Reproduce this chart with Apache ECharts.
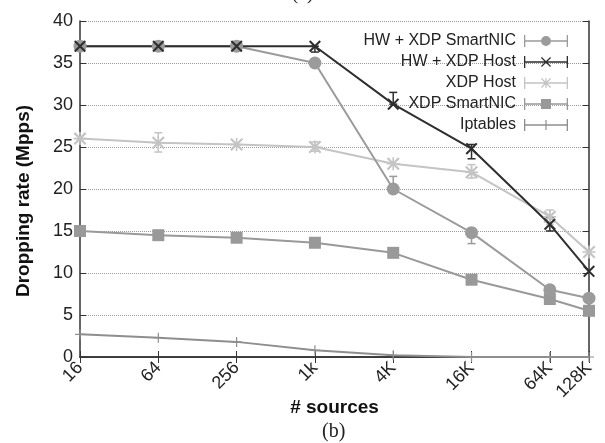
<!DOCTYPE html>
<html lang="en">
<head>
<meta charset="UTF-8">
<title>Dropping rate</title>
<script src="https://cdn.jsdelivr.net/npm/echarts@6/dist/echarts.min.js"></script>
<style>
  html, body { margin: 0; padding: 0; background: #fff; }
  #main { width: 605px; height: 443px; }
</style>
</head>
<body>
<div id="main"></div>
<script>
// # sources (x axis drawn on a log2 scale)
var sources = [16, 64, 256, 1024, 4096, 16384, 65536, 131072];
var xLabels = ['16', '64', '256', '1k', '4K', '16K', '64K', '128K'];

// dropping rate (Mpps)
var hwXdpNic  = [37, 37, 37, 35, 20, 14.8, 8, 7];
var hwXdpHost = [37, 37, 37, 37, 30.1, 24.8, 15.8, 10.2];
var xdpHost   = [26, 25.5, 25.3, 25, 23, 22, 16.7, 12.5];
var xdpNic    = [15, 14.5, 14.2, 13.6, 12.4, 9.2, 6.9, 5.5];
var iptables  = [2.7, 2.3, 1.8, 0.8, 0.2, 0, 0, 0];

// error bars: [sources, low, high]
var errHwXdpNic  = [[4096, 20, 21.5], [16384, 13.5, 15.3]];
var errHwXdpHost = [[1024, 36.3, 37], [4096, 30.1, 31.5], [16384, 23.6, 25.3], [65536, 15, 16.6]];
var errXdpHost   = [[64, 24.4, 26.7], [1024, 24.5, 25.6], [16384, 21.3, 22.9], [65536, 15.8, 17.5]];

var C_NIC = '#9b9b9b', C_HOST = '#2e2e2e', C_XHOST = '#c4c4c4', C_XNIC = '#999999', C_IPT = '#8e8e8e';

var crossPath = 'path://M0,1.2L1.2,0L10,8.8L8.8,10ZM8.8,0L10,1.2L1.2,10L0,8.8Z';
var plusPath = 'path://M4.4,0H5.6V10H4.4ZM0,4.4H10V5.6H0Z';
var starPath = 'path://M0,1.2L1.2,0L10,8.8L8.8,10ZM8.8,0L10,1.2L1.2,10L0,8.8ZM4.4,0H5.6V10H4.4ZM0,4.4H10V5.6H0Z';

// legend keys like gnuplot: |--marker--|
var caps = 'M0,0H1.3V12H0ZM42.7,0H44V12H42.7Z';
var fullLine = 'M0,5.25H44V6.75H0Z';
var splitLine = 'M0,5.25H17V6.75H0ZM27,5.25H44V6.75H27Z';
var iconNic = 'path://' + caps + splitLine + 'M17,6A5,5 0 1,1 27,6A5,5 0 1,1 17,6Z';
var iconHost = 'path://' + caps + fullLine + 'M17,1.9L17.9,1L27,10.1L26.1,11ZM26.1,1L27,1.9L17.9,11L17,10.1Z';
var iconXHost = 'path://' + caps + fullLine + 'M17,1.9L17.9,1L27,10.1L26.1,11ZM26.1,1L27,1.9L17.9,11L17,10.1ZM21.4,1H22.6V11H21.4Z';
var iconXNic = 'path://' + caps + splitLine + 'M17,1H27V11H17Z';
var iconIpt = 'path://' + caps + fullLine + 'M21.4,1H22.6V11H21.4Z';

var labelMap = {};
sources.forEach(function (s, i) { labelMap[Math.log2(s)] = xLabels[i]; });

function pts(vals) {
    return vals.map(function (v, i) { return [Math.log2(sources[i]), v]; });
}

function lineSeries(name, vals, color, symbol, size) {
    return {
        name: name,
        type: 'line',
        data: pts(vals),
        symbol: symbol,
        symbolSize: size,
        showAllSymbol: true,
        lineStyle: { color: color, width: 2 },
        itemStyle: { color: color, borderWidth: 0 },
        z: 3
    };
}

function errSeries(list, color) {
    return {
        type: 'custom',
        data: list.map(function (e) { return [Math.log2(e[0]), e[1], e[2]]; }),
        encode: { x: 0, y: [1, 2] },
        z: 2,
        silent: true,
        renderItem: function (params, api) {
            var lo = api.coord([api.value(0), api.value(1)]);
            var hi = api.coord([api.value(0), api.value(2)]);
            var w = 4;
            var st = { stroke: color, lineWidth: 1.5 };
            return {
                type: 'group',
                children: [
                    { type: 'line', shape: { x1: lo[0], y1: lo[1], x2: hi[0], y2: hi[1] }, style: st },
                    { type: 'line', shape: { x1: lo[0] - w, y1: lo[1], x2: lo[0] + w, y2: lo[1] }, style: st },
                    { type: 'line', shape: { x1: hi[0] - w, y1: hi[1], x2: hi[0] + w, y2: hi[1] }, style: st }
                ]
            };
        }
    };
}

var axisLineStyle = { color: '#333', width: 1.5 };
var labelFont = { fontFamily: 'Liberation Sans, Arial, sans-serif', fontSize: 18, color: '#222' };

var myChart = echarts.init(document.getElementById('main'));

var option = {
    animation: false,
    backgroundColor: '#fff',
    grid: { left: 80, right: 16, top: 21, bottom: 86 },
    legend: {
        data: [
            { name: 'HW + XDP SmartNIC', icon: iconNic },
            { name: 'HW + XDP Host', icon: iconHost },
            { name: 'XDP Host', icon: iconXHost },
            { name: 'XDP SmartNIC', icon: iconXNic },
            { name: 'Iptables', icon: iconIpt }
        ],
        orient: 'vertical',
        right: 32,
        top: 28,
        align: 'right',
        itemWidth: 44,
        itemHeight: 12,
        itemGap: 5,
        textStyle: { fontFamily: 'Liberation Sans, Arial, sans-serif', fontSize: 16, color: '#222', padding: [0, 3, 0, 0] }
    },
    graphic: [
        { type: 'text', left: 'center', top: -16, style: { text: '(a)', font: '20px "Liberation Serif", serif', fill: '#222' } },
        { type: 'text', left: 322, top: 422, style: { text: '(b)', font: '20px "Liberation Serif", serif', fill: '#222' } }
    ],
    xAxis: [{
        type: 'value',
        min: 4,
        max: 17,
        interval: 2,
        position: 'bottom',
        name: '# sources',
        nameLocation: 'middle',
        nameGap: 41,
        nameMoveOverlap: false,
        nameTextStyle: { fontFamily: 'Liberation Sans, Arial, sans-serif', fontSize: 19, fontWeight: 'bold', color: '#111' },
        axisLine: { lineStyle: axisLineStyle },
        axisTick: { inside: true, length: 6, lineStyle: { color: '#333' } },
        axisLabel: Object.assign({
            rotate: 45,
            margin: 8,
            formatter: function (v) { return labelMap[v] || ''; }
        }, labelFont),
        splitLine: { show: false }
    }, {
        type: 'value',
        min: 4,
        max: 17,
        interval: 2,
        position: 'top',
        axisLine: { lineStyle: axisLineStyle },
        axisTick: { inside: true, length: 6, lineStyle: { color: '#333' } },
        axisLabel: { show: false },
        splitLine: { show: false }
    }],
    yAxis: [{
        type: 'value',
        min: 0,
        max: 40,
        interval: 5,
        name: 'Dropping rate (Mpps)',
        nameLocation: 'middle',
        nameGap: 47,
        nameMoveOverlap: false,
        nameTextStyle: { fontFamily: 'Liberation Sans, Arial, sans-serif', fontSize: 19, fontWeight: 'bold', color: '#111', padding: [0, 24, 0, 0] },
        axisLine: { show: true, lineStyle: axisLineStyle },
        axisTick: { show: true, inside: true, length: 6, lineStyle: { color: '#333' } },
        axisLabel: Object.assign({ margin: 7 }, labelFont),
        splitLine: { show: true, lineStyle: { type: 'dotted', color: '#9a9a9a', width: 1 } }
    }, {
        type: 'value',
        min: 0,
        max: 40,
        interval: 5,
        position: 'right',
        axisLine: { show: true, lineStyle: axisLineStyle },
        axisTick: { show: true, inside: true, length: 6, lineStyle: { color: '#333' } },
        axisLabel: { show: false },
        splitLine: { show: false }
    }],
    series: [
        errSeries(errHwXdpNic, C_NIC),
        errSeries(errHwXdpHost, C_HOST),
        errSeries(errXdpHost, C_XHOST),
        lineSeries('Iptables', iptables, C_IPT, plusPath, 10),
        lineSeries('XDP SmartNIC', xdpNic, C_XNIC, 'rect', 12),
        lineSeries('XDP Host', xdpHost, C_XHOST, starPath, 13),
        lineSeries('HW + XDP SmartNIC', hwXdpNic, C_NIC, 'circle', 13),
        lineSeries('HW + XDP Host', hwXdpHost, C_HOST, crossPath, 12)
    ]
};

myChart.setOption(option);
window.onresize = myChart.resize;
</script>
</body>
</html>
